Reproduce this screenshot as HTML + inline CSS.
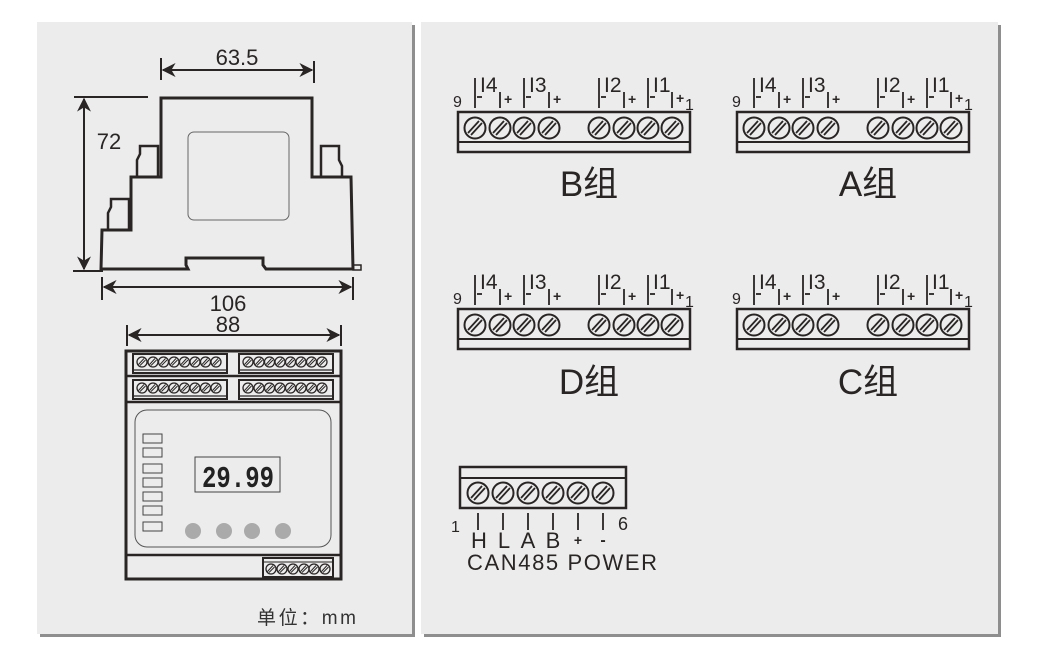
<!DOCTYPE html>
<html><head><meta charset="utf-8"><style>
html,body{margin:0;padding:0;background:#fff;}
svg{display:block;font-family:"Liberation Sans","Noto Sans CJK SC",sans-serif;}
</style></head><body>
<svg width="1039" height="661" viewBox="0 0 1039 661" xmlns="http://www.w3.org/2000/svg">
<defs>
<g id="scr"><circle r="10.5" fill="none" stroke="#2a2525" stroke-width="2"/><line x1="-7" y1="5" x2="4" y2="-7" stroke="#2a2525" stroke-width="1.8"/><line x1="-4" y1="7" x2="7" y2="-5" stroke="#2a2525" stroke-width="1.8"/></g>
<g id="ss"><circle r="5" fill="none" stroke="#2a2525" stroke-width="1.3"/><line x1="-3.5" y1="2.5" x2="2" y2="-3.5" stroke="#2a2525" stroke-width="1"/><line x1="-2" y1="3.5" x2="3.5" y2="-2" stroke="#2a2525" stroke-width="1"/></g>
<g id="blk">
<rect x="0" y="0" width="232" height="40" fill="none" stroke="#2a2525" stroke-width="2.5"/>
<line x1="0" y1="30" x2="232" y2="30" stroke="#2a2525" stroke-width="2"/>
<use href="#scr" x="17" y="16"/><use href="#scr" x="42" y="16"/><use href="#scr" x="66" y="16"/><use href="#scr" x="91" y="16"/>
<use href="#scr" x="141" y="16"/><use href="#scr" x="166" y="16"/><use href="#scr" x="190" y="16"/><use href="#scr" x="214" y="16"/>
<g stroke="#2a2525" stroke-width="1.8">
<line x1="17" y1="-34" x2="17" y2="-4"/><line x1="42" y1="-20" x2="42" y2="-4"/>
<line x1="66" y1="-34" x2="66" y2="-4"/><line x1="91" y1="-20" x2="91" y2="-4"/>
<line x1="141" y1="-34" x2="141" y2="-4"/><line x1="166" y1="-20" x2="166" y2="-4"/>
<line x1="190" y1="-34" x2="190" y2="-4"/><line x1="214" y1="-20" x2="214" y2="-4"/>
<line x1="19" y1="-15" x2="24" y2="-15"/><line x1="68" y1="-15" x2="73" y2="-15"/>
<line x1="143" y1="-15" x2="148" y2="-15"/><line x1="192" y1="-15" x2="197" y2="-15"/>
</g>
</g>
<g id="lbl" fill="#2a2525">
<text x="-5" y="-5" font-size="16">9</text>
<text x="22" y="-20" font-size="21">I4</text><text x="71" y="-20" font-size="21">I3</text>
<text x="146" y="-20" font-size="21">I2</text><text x="195" y="-20" font-size="21">I1</text>
<text x="46" y="-8" font-size="14" font-weight="bold">+</text><text x="95" y="-8" font-size="14" font-weight="bold">+</text>
<text x="170" y="-8" font-size="14" font-weight="bold">+</text><text x="218" y="-9" font-size="14" font-weight="bold">+</text>
<text x="227" y="-2" font-size="16">1</text>
</g>
<g id="b8">
<rect x="0" y="0" width="94" height="19" fill="none" stroke="#2a2525" stroke-width="2"/>
<line x1="0" y1="16" x2="94" y2="16" stroke="#2a2525" stroke-width="1.2"/>
<use href="#ss" x="9" y="8"/><use href="#ss" x="20" y="8"/><use href="#ss" x="30.5" y="8"/><use href="#ss" x="41" y="8"/>
<use href="#ss" x="51.5" y="8"/><use href="#ss" x="62" y="8"/><use href="#ss" x="72.5" y="8"/><use href="#ss" x="83" y="8"/>
</g>
<marker id="ar" viewBox="0 0 10 10" refX="9" refY="5" markerWidth="7" markerHeight="7" orient="auto-start-reverse"><path d="M0,0 L10,5 L0,10 L3,5 Z" fill="#2a2525"/></marker>
</defs>
<rect x="40" y="25" width="375" height="612" fill="#8e8e8e"/>
<rect x="37" y="22" width="375" height="612" fill="#ececec"/>
<rect x="424" y="25" width="577" height="612" fill="#8e8e8e"/>
<rect x="421" y="22" width="577" height="612" fill="#ececec"/>

<g stroke="#2a2525" fill="none">
<path d="M161,98 H312 V177 H351 L353,269 H266 L263,265 V258 H186 V265 L188,269 H101 L102,230 H131 V177 H161 Z" stroke-width="3"/>
<path d="M137,177 V160 L140,154 V146 H158 V177" stroke-width="2.5"/>
<path d="M108,230 V213 L111,207 V199 H129 V230" stroke-width="2.5"/>
<path d="M321,177 V146 H339 V160 L342,166 V177" stroke-width="2.5"/>
<rect x="188" y="132" width="101" height="88" rx="6" stroke="#666" stroke-width="1"/>
<rect x="353" y="265" width="8" height="5" stroke-width="1.5"/>
<g stroke-width="2">
<line x1="161" y1="58" x2="161" y2="80"/><line x1="314" y1="61" x2="314" y2="83"/>
<line x1="163" y1="70" x2="312" y2="70" marker-start="url(#ar)" marker-end="url(#ar)"/>
<line x1="74" y1="97" x2="148" y2="97"/><line x1="73" y1="271" x2="103" y2="271"/>
<line x1="84" y1="99" x2="84" y2="269" marker-start="url(#ar)" marker-end="url(#ar)"/>
<line x1="102" y1="277" x2="102" y2="300"/><line x1="353" y1="277" x2="353" y2="300"/>
<line x1="104" y1="287" x2="351" y2="287" marker-start="url(#ar)" marker-end="url(#ar)"/>
<line x1="127" y1="325" x2="127" y2="346"/><line x1="341" y1="325" x2="341" y2="346"/>
<line x1="129" y1="335" x2="339" y2="335" marker-start="url(#ar)" marker-end="url(#ar)"/>
</g>
</g>
<g fill="#2a2525" font-size="22" text-anchor="middle">
<text x="237" y="65">63.5</text>
<text x="109" y="149">72</text>
<text x="228" y="311">106</text>
<text x="228" y="332">88</text>
</g>

<g stroke="#2a2525" fill="none">
<rect x="126" y="351" width="215" height="228" stroke-width="3"/>
<line x1="126" y1="376" x2="341" y2="376" stroke-width="2.5"/>
<line x1="126" y1="402" x2="341" y2="402" stroke-width="2.5"/>
<line x1="126" y1="555" x2="341" y2="555" stroke-width="2.5"/>
<rect x="135" y="410" width="196" height="137" rx="12" stroke="#555" stroke-width="1"/>
<g stroke="#444" stroke-width="1"><rect x="143" y="434" width="19" height="9"/><rect x="143" y="448" width="19" height="9"/><rect x="143" y="464" width="19" height="9"/><rect x="143" y="478" width="19" height="9"/><rect x="143" y="492" width="19" height="9"/><rect x="143" y="506" width="19" height="9"/><rect x="143" y="522" width="19" height="9"/></g>
<rect x="195" y="457" width="85" height="35" stroke="#444" stroke-width="1"/>
</g>
<use href="#b8" x="133" y="354"/><use href="#b8" x="239" y="354"/>
<use href="#b8" x="133" y="380"/><use href="#b8" x="239" y="380"/>
<g>
<rect x="263" y="558" width="70" height="19" fill="none" stroke="#2a2525" stroke-width="2"/>
<line x1="263" y1="562" x2="333" y2="562" stroke="#2a2525" stroke-width="1"/>
<use href="#ss" x="271" y="569"/><use href="#ss" x="282" y="569"/><use href="#ss" x="293" y="569"/><use href="#ss" x="304" y="569"/><use href="#ss" x="314" y="569"/><use href="#ss" x="325" y="569"/>
</g>
<text x="202" y="487" font-family="Liberation Mono,monospace" font-weight="bold" font-size="31" fill="#222" textLength="72" lengthAdjust="spacingAndGlyphs">29.99</text>
<g fill="#aaa"><circle cx="193" cy="531" r="8"/><circle cx="224" cy="531" r="8"/><circle cx="252" cy="531" r="8"/><circle cx="283" cy="531" r="8"/></g>
<text x="257" y="624" font-size="19" fill="#333" textLength="99">单位：mm</text>

<g transform="translate(458,112)"><use href="#blk"/><use href="#lbl"/></g>
<g transform="translate(737,112)"><use href="#blk"/><use href="#lbl"/></g>
<g transform="translate(458,309)"><use href="#blk"/><use href="#lbl"/></g>
<g transform="translate(737,309)"><use href="#blk"/><use href="#lbl"/></g>
<g fill="#2a2525" font-size="35" text-anchor="middle">
<text x="589" y="196">B组</text>
<text x="868" y="196">A组</text>
<text x="589" y="394">D组</text>
<text x="868" y="394">C组</text>
</g>

<g stroke="#2a2525" fill="none">
<rect x="460" y="467" width="166" height="41" stroke-width="2.5"/>
<line x1="460" y1="478" x2="626" y2="478" stroke-width="2"/>
<g stroke-width="1.8"><line x1="478" y1="513" x2="478" y2="530"/><line x1="503" y1="513" x2="503" y2="530"/><line x1="528" y1="513" x2="528" y2="530"/><line x1="553" y1="513" x2="553" y2="530"/><line x1="578" y1="513" x2="578" y2="530"/><line x1="603" y1="513" x2="603" y2="530"/></g>
</g>
<use href="#scr" x="478" y="493"/><use href="#scr" x="503" y="493"/><use href="#scr" x="528" y="493"/><use href="#scr" x="553" y="493"/><use href="#scr" x="578" y="493"/><use href="#scr" x="603" y="493"/>
<g fill="#2a2525">
<text x="451" y="532" font-size="16">1</text>
<text x="618" y="530" font-size="18">6</text>
<g font-size="22" text-anchor="middle"><text x="479" y="548">H</text><text x="504" y="548">L</text><text x="528" y="548">A</text><text x="553" y="548">B</text><text x="578" y="545" font-size="14" font-weight="bold">+</text><text x="603" y="545" font-size="16" font-weight="bold">-</text></g>
<text x="467" y="570" font-size="22" textLength="190">CAN485 POWER</text>
</g>
</svg>
</body></html>
